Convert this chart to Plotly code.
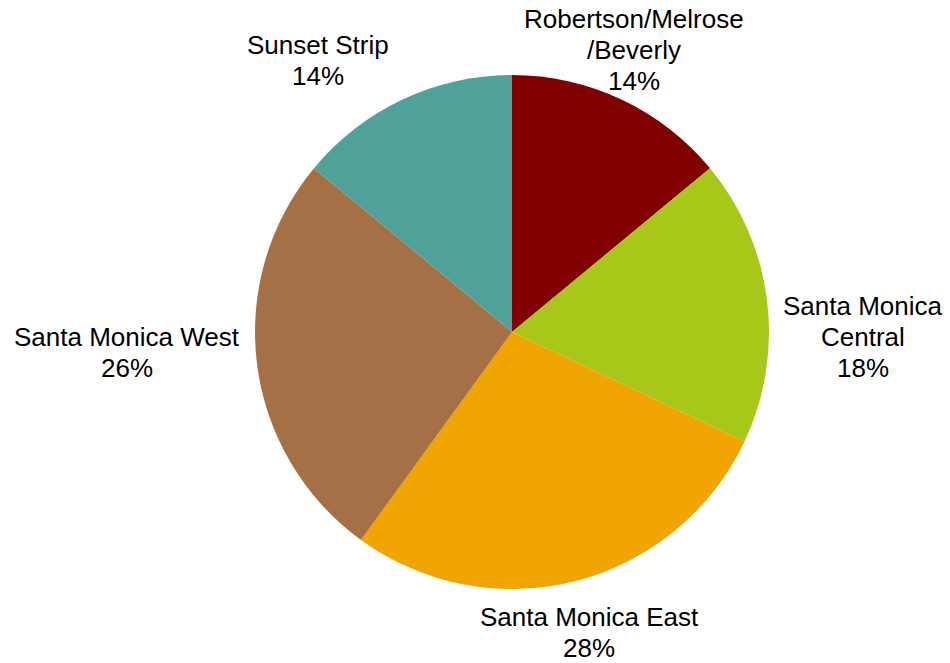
import plotly.graph_objects as go

# Share of listings by area
areas = ["Robertson/Melrose/Beverly", "Santa Monica Central", "Santa Monica East",
         "Santa Monica West", "Sunset Strip"]
label_lines = [["Robertson/Melrose", "/Beverly"], ["Santa Monica", "Central"],
               ["Santa Monica East"], ["Santa Monica West"], ["Sunset Strip"]]
shares = [14, 18, 28, 26, 14]
colors = ["#800000", "#A7C818", "#F0A500", "#A57045", "#50A19A"]

# centre of the first text line for each label, in canvas pixels
label_px = [(634, 19), (863, 306), (589, 617), (127, 337), (318, 45)]
line_step = 31

W, H = 950, 663
cx, cy, r = 512, 332, 257

fig = go.Figure(go.Pie(
    labels=areas,
    values=shares,
    sort=False,
    direction="clockwise",
    rotation=0,
    textinfo="none",
    hoverinfo="label+percent",
    marker=dict(colors=colors, line=dict(width=0)),
    domain=dict(x=[(cx - r) / W, (cx + r) / W], y=[1 - (cy + r) / H, 1 - (cy - r) / H]),
    showlegend=False,
))

total = sum(shares)
font = dict(family="Liberation Sans, Arial, sans-serif", size=26, color="#000000")
annotations = []
for lines, v, (px, py) in zip(label_lines, shares, label_px):
    for i, line in enumerate(lines + [f"{round(100 * v / total)}%"]):
        annotations.append(dict(
            text=line,
            x=px / W, y=1 - (py + i * line_step) / H, xref="paper", yref="paper",
            xanchor="center", yanchor="middle", showarrow=False, font=font,
        ))

fig.update_layout(
    width=W, height=H,
    margin=dict(l=0, r=0, t=0, b=0),
    paper_bgcolor="white", plot_bgcolor="white",
    annotations=annotations,
)

fig.write_html("out.html")
